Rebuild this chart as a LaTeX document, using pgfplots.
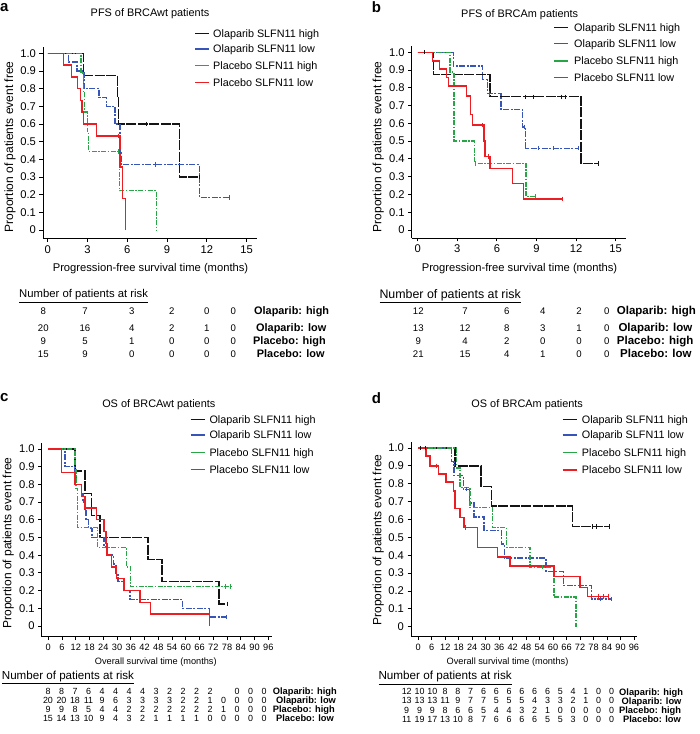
\documentclass[border=0pt]{standalone}
\usepackage{fontspec}
\setmainfont{Liberation Sans}
\usepackage{pgfplots}
\pgfplotsset{compat=1.18}

\newcommand\fs[1]{\fontsize{#1}{#1}\selectfont}

\definecolor{cblk}{RGB}{20,20,20}
\definecolor{cblu}{RGB}{55,85,185}
\definecolor{cgrn}{RGB}{40,165,70}
\definecolor{cred}{RGB}{235,30,35}

\pgfplotsset{
  km/.style={scale only axis, anchor=south west,
    axis lines=left, axis line style={-, line width=0.9pt},
    tick align=outside, major tick length=3.5pt,
    every tick/.style={line width=0.9pt, black},
    ytick={0,0.1,0.2,0.3,0.4,0.5,0.6,0.7,0.8,0.9,1},
    yticklabels={0,0.1,0.2,0.3,0.4,0.5,0.6,0.7,0.8,0.9,1.0},
    yticklabel style={font=\fs{11.2}},
    clip=false},
  pfs/.style={xtick={0,3,6,9,12,15}, xticklabels={0,3,6,9,12,15},
    xticklabel style={font=\fs{11.2}}},
  os/.style={xtick={0,6,12,18,24,30,36,42,48,54,60,66,72,78,84,90,96},
    xticklabels={0,6,12,18,24,30,36,42,48,54,60,66,72,78,84,90,96},
    xticklabel style={font=\fs{9.2}}},
  oh/.style={const plot, cblk, line width=1.4pt, dash pattern=on 10pt off 1.5pt},
  ol/.style={const plot, cblu, line width=1.4pt, dash pattern=on 6pt off 1.5pt on 2pt off 1.5pt},
  ph/.style={const plot, cgrn, line width=1.4pt, dash pattern=on 5pt off 1.5pt on 1.5pt off 1.5pt},
  pl/.style={const plot, cred, line width=1.4pt},
  cen/.style={only marks, mark=|, mark size=2.2pt, mark options={solid, line width=1pt}},
}

\begin{document}
\begin{tikzpicture}
\useasboundingbox (0,0) rectangle (700pt,734pt);

% ---------------- a: PFS BRCAwt
\begin{axis}[km, pfs, at={(43pt,495.7pt)}, width=213.6pt, height=191.5pt,
  xmin=-0.35, xmax=15.75, ymin=-0.047, ymax=1.037]
\addplot[oh] coordinates {(0,1) (2.69,0.875) (5.25,0.75) (5.35,0.6) (9.92,0.3) (11.45,0.3)};
\addplot[ol] coordinates {(0,1) (1.56,0.95) (2.2,0.9) (2.74,0.8) (3.87,0.75) (4.45,0.7) (5.08,0.6) (5.45,0.44) (5.55,0.37) (11.43,0.185) (13.74,0.185)};
\addplot[ph] coordinates {(0,1) (2.5,0.889) (2.7,0.778) (2.8,0.667) (3.0,0.556) (3.1,0.444) (5.4,0.222) (8.2,0)};
\addplot[pl] coordinates {(0,1) (1.18,0.933) (1.81,0.867) (2.24,0.8) (2.46,0.733) (2.59,0.667) (2.69,0.6) (3.69,0.533) (5.45,0.356) (5.65,0.178) (5.85,0)};
\addplot[cen, cblk] coordinates {(7.46,0.6) (11.45,0.3)};
\addplot[cen, cblu] coordinates {(5.5,0.44) (8.16,0.37) (13.74,0.185)};
\addplot[cen, cgrn] coordinates {(5.35,0.444)};
\addplot[cen, cred] coordinates {(5.33,0.533)};
\end{axis}

% ---------------- b: PFS BRCAm
\begin{axis}[km, pfs, at={(411.7pt,496pt)}, width=213.9pt, height=192.3pt,
  xmin=-0.455, xmax=15.75, ymin=-0.045, ymax=1.037]
\addplot[oh] coordinates {(0,1) (1.19,0.875) (5.48,0.75) (12.37,0.375) (13.69,0.375)};
\addplot[ol] coordinates {(0,1) (2.7,0.923) (4.92,0.846) (5.28,0.769) (6.31,0.677) (7.95,0.58) (8.18,0.46) (12.2,0.46)};
\addplot[ph] coordinates {(0,1) (2.45,0.889) (2.75,0.5) (4.29,0.375) (8.2,0.19) (8.94,0.19)};
\addplot[pl] coordinates {(0,1) (1.14,0.952) (1.64,0.905) (2.2,0.857) (2.32,0.81) (3.71,0.755) (4.02,0.65) (4.17,0.59) (5.02,0.5) (5.1,0.413) (5.48,0.345) (7.2,0.26) (8.0,0.175) (11.0,0.175)};
\addplot[cen, cblk] coordinates {(0.55,1) (8.13,0.75) (8.76,0.75) (10.9,0.75) (11.16,0.75) (13.69,0.375)};
\addplot[cen, cblu] coordinates {(5.45,0.769) (8.1,0.58) (9.14,0.46) (10.28,0.46) (12.2,0.46)};
\addplot[cen, cgrn] coordinates {(4.4,0.375) (8.94,0.19)};
\addplot[cen, cred] coordinates {(4.92,0.59) (5.35,0.413) (11.0,0.175)};
\end{axis}

% ---------------- c: OS BRCAwt
\begin{axis}[km, os, at={(41.7pt,97.3pt)}, width=230pt, height=193.4pt,
  xmin=-2.88, xmax=97.5, ymin=-0.0605, ymax=1.032]
\addplot[oh] coordinates {(0,1) (11.6,0.875) (16,0.75) (18.9,0.625) (22.5,0.5) (43.6,0.375) (49.6,0.25) (74.5,0.125) (78.3,0.125)};
\addplot[ol] coordinates {(0,1) (7.3,0.9) (11.5,0.85) (12.1,0.8) (14.5,0.75) (15.2,0.7) (16,0.65) (16.5,0.6) (17.5,0.55) (19,0.5) (24.3,0.45) (25.7,0.4) (28.4,0.35) (29.5,0.3) (30.5,0.25) (32.7,0.2) (35.6,0.15) (58.6,0.1) (70.3,0.05) (77.8,0.05)};
\addplot[ph] coordinates {(0,1) (11.6,0.889) (12.1,0.778) (12.7,0.556) (21.5,0.444) (34.2,0.333) (35.9,0.222) (79.7,0.222)};
\addplot[pl] coordinates {(0,1) (5.8,0.867) (11.6,0.8) (14.5,0.733) (16,0.667) (21.1,0.6) (24.3,0.533) (25.2,0.467) (25.7,0.4) (27.6,0.333) (29.8,0.267) (33,0.2) (40,0.133) (44.7,0.067) (70.3,0)};
\addplot[cen, cblk] coordinates {(78.3,0.125)};
\addplot[cen, cblu] coordinates {(77.8,0.05)};
\addplot[cen, cgrn] coordinates {(77.5,0.222) (79.7,0.222)};
\end{axis}

% ---------------- d: OS BRCAm
\begin{axis}[km, os, at={(411pt,97.3pt)}, width=225.9pt, height=194.4pt,
  xmin=-3.25, xmax=97.3, ymin=-0.056, ymax=1.032]
\addplot[oh] coordinates {(0,1) (16.3,0.9) (27.9,0.784) (32.6,0.675) (68.7,0.56) (85.3,0.56)};
\addplot[ol] coordinates {(0,1) (14.8,0.923) (15.9,0.846) (20,0.769) (22.7,0.692) (24.8,0.615) (29.2,0.538) (37.1,0.462) (38.3,0.385) (56.8,0.308) (64.5,0.231) (77.2,0.154) (86,0.154)};
\addplot[ph] coordinates {(0,1) (17.1,0.889) (18.5,0.778) (23,0.667) (33.1,0.556) (39.3,0.444) (49.7,0.333) (60.4,0.167) (70.2,0)};
\addplot[pl] coordinates {(0,1) (3.4,0.955) (5.2,0.9) (8.9,0.855) (12.3,0.81) (15.6,0.76) (16.3,0.66) (18.5,0.61) (20.3,0.555) (26.4,0.444) (35.3,0.39) (40.8,0.34) (60.4,0.28) (72,0.22) (75.2,0.17) (84.6,0.17)};
\addplot[cen, cblk] coordinates {(0.8,1) (3,1) (77.6,0.56) (79.1,0.56) (85.3,0.56)};
\addplot[cen, cblu] coordinates {(21.5,0.769) (81.3,0.154) (86,0.154)};
\addplot[cen, cgrn] coordinates {(55.3,0.333)};
\addplot[cen, cred] coordinates {(7.9,0.9) (21,0.555) (80.4,0.17) (82.6,0.17) (84.6,0.17)};
\end{axis}

% ---------------- texts (pixel coordinates, y downwards)
\begin{scope}[shift={(0,734pt)}, x=1pt, y=-1pt,
  every node/.style={inner sep=0pt, text=black},
  bw/.style={anchor=base west}, bc/.style={anchor=base}]
% panel letters
\node[bw, font=\fs{15}\bfseries] at (0,11.7) {a};
\node[bw, font=\fs{15}\bfseries] at (371.7,12.7) {b};
\node[bw, font=\fs{15}\bfseries] at (0,401.7) {c};
\node[bw, font=\fs{15}\bfseries] at (371.7,403.3) {d};
% titles
\node[bc, font=\fs{10.9}] at (150,16.9) {PFS of BRCAwt patients};
\node[bc, font=\fs{10.9}] at (519.7,17.2) {PFS of BRCAm patients};
\node[bc, font=\fs{10.9}] at (158.8,407.2) {OS of BRCAwt patients};
\node[bc, font=\fs{10.9}] at (527.2,407.2) {OS of BRCAm patients};
% axis labels
\node[bc, font=\fs{11.2}] at (150.5,271.5) {Progression-free survival time (months)};
\node[bc, font=\fs{11.2}] at (519.5,271.3) {Progression-free survival time (months)};
\node[bc, font=\fs{9.2}] at (155.8,665) {Overall survival time (months)};
\node[bc, font=\fs{9.2}] at (507.5,665) {Overall survival time (months)};
\node[rotate=90, font=\fs{12}] at (10,146.7) {Proportion of patients event free};
\node[rotate=90, font=\fs{12}] at (378.3,146.7) {Proportion of patients event free};
\node[rotate=90, font=\fs{12}] at (8.3,543) {Proportion of patients event free};
\node[rotate=90, font=\fs{12}] at (378.3,540) {Proportion of patients event free};
% legends
\foreach \lx/\tx/\ya/\yb/\yc/\yd in {195/213/33.3/49/65.7/82.3, 554/574/27.3/43.3/61/77.7,
    190.7/209.3/419.3/435/452.3/469.3, 562.7/581.7/419.3/435/452.3/470}{
  \draw[cblk, line width=1.5pt] (\lx,\ya) -- ++(14,0);
  \draw[cblu, line width=1.5pt] (\lx,\yb) -- ++(14,0);
  \draw[cgrn, line width=1.5pt] (\lx,\yc) -- ++(14,0);
  \draw[cred, line width=1.5pt] (\lx,\yd) -- ++(14,0);
  \node[bw, font=\fs{10.8}] at (\tx,\ya+3.9) {Olaparib SLFN11 high};
  \node[bw, font=\fs{10.8}] at (\tx,\yb+3.9) {Olaparib SLFN11 low};
  \node[bw, font=\fs{10.8}] at (\tx,\yc+3.9) {Placebo SLFN11 high};
  \node[bw, font=\fs{10.8}] at (\tx,\yd+3.9) {Placebo SLFN11 low};
}
% risk tables: headers
\node[bw, font=\fs{11.3}] at (19,298) {\underline{Number of patients at risk}};
\node[bw, font=\fs{12.4}] at (379.3,298.4) {\underline{Number of patients at risk}};
\node[bw, font=\fs{11.6}] at (1.7,679.2) {\underline{Number of patients at risk}};
\node[bw, font=\fs{11.7}] at (378.3,679.9) {\underline{Number of patients at risk}};
% a
\foreach \x/\p/\q/\r/\s in {43.3/8/20/9/15, 85/7/16/5/9, 131.7/3/4/1/0, 171.7/2/2/0/0, 206.7/0/1/0/0, 233.3/0/0/0/0}{
  \node[bc, font=\fs{9.6}] at (\x,314.4) {\p};
  \node[bc, font=\fs{9.6}] at (\x,331.1) {\q};
  \node[bc, font=\fs{9.6}] at (\x,344.1) {\r};
  \node[bc, font=\fs{9.6}] at (\x,357.7) {\s};
}
\node[bw, font=\fs{10.9}\bfseries] at (254,314.6) {Olaparib: high};
\node[bw, font=\fs{10.9}\bfseries] at (256,331.3) {Olaparib: low};
\node[bw, font=\fs{10.9}\bfseries] at (253,344.3) {Placebo: high};
\node[bw, font=\fs{10.9}\bfseries] at (256.7,357.9) {Placebo: low};
% b
\foreach \x/\p/\q/\r/\s in {418.3/12/13/9/21, 465/7/12/4/15, 506.7/6/8/2/4, 542.7/4/3/0/1, 579/2/1/0/0, 606.7/0/0/0/0}{
  \node[bc, font=\fs{9.6}] at (\x,314.4) {\p};
  \node[bc, font=\fs{9.6}] at (\x,331.1) {\q};
  \node[bc, font=\fs{9.6}] at (\x,344.1) {\r};
  \node[bc, font=\fs{9.6}] at (\x,357.7) {\s};
}
\node[bw, font=\fs{11.5}\bfseries] at (616.7,314.6) {Olaparib: high};
\node[bw, font=\fs{11.5}\bfseries] at (618.3,331.3) {Olaparib: low};
\node[bw, font=\fs{11.5}\bfseries] at (616.7,344.3) {Placebo: high};
\node[bw, font=\fs{11.5}\bfseries] at (620,357.9) {Placebo: low};
% c
\foreach \v [count=\i from 0] in {8,8,7,6,4,4,4,4,3,2,2,2,2,,0,0,0}
  \node[bc, font=\fs{8.9}] at ({48+13.5*\i},694.2) {\v};
\foreach \v [count=\i from 0] in {20,20,18,11,9,6,3,3,3,3,2,2,1,0,0,0,0}
  \node[bc, font=\fs{8.9}] at ({48+13.5*\i},703.2) {\v};
\foreach \v [count=\i from 0] in {9,9,8,5,4,4,2,2,2,2,2,2,2,1,0,0,0}
  \node[bc, font=\fs{8.9}] at ({48+13.5*\i},712.2) {\v};
\foreach \v [count=\i from 0] in {15,14,13,10,9,4,3,2,1,1,1,1,0,0,0,0,0}
  \node[bc, font=\fs{8.9}] at ({48+13.5*\i},721.5) {\v};
\node[bw, font=\fs{9.3}\bfseries] at (272.7,694.4) {Olaparib: high};
\node[bw, font=\fs{9.3}\bfseries] at (276,703.4) {Olaparib: low};
\node[bw, font=\fs{9.3}\bfseries] at (272.7,712.4) {Placebo: high};
\node[bw, font=\fs{9.3}\bfseries] at (276,721.7) {Placebo: low};
% d
\foreach \v [count=\i from 0] in {12,10,10,8,8,7,6,6,6,6,6,6,5,4,1,0,0}
  \node[bc, font=\fs{8.9}] at ({406.7+12.8*\i},694.9) {\v};
\foreach \v [count=\i from 0] in {13,13,13,11,9,7,7,5,5,5,4,3,3,2,1,0,0}
  \node[bc, font=\fs{8.9}] at ({406.7+12.8*\i},703.9) {\v};
\foreach \v [count=\i from 0] in {9,9,9,8,6,6,5,4,4,3,2,1,0,0,0,0,0}
  \node[bc, font=\fs{8.9}] at ({406.7+12.8*\i},713.2) {\v};
\foreach \v [count=\i from 0] in {11,19,17,13,10,8,7,6,6,6,6,5,5,3,0,0,0}
  \node[bc, font=\fs{8.9}] at ({406.7+12.8*\i},722.2) {\v};
\node[bw, font=\fs{9.3}\bfseries] at (619,695.1) {Olaparib: high};
\node[bw, font=\fs{9.3}\bfseries] at (621.5,704.1) {Olaparib: low};
\node[bw, font=\fs{9.3}\bfseries] at (619,713.4) {Placebo: high};
\node[bw, font=\fs{9.3}\bfseries] at (623,722.4) {Placebo: low};
\end{scope}
\end{tikzpicture}
\end{document}
